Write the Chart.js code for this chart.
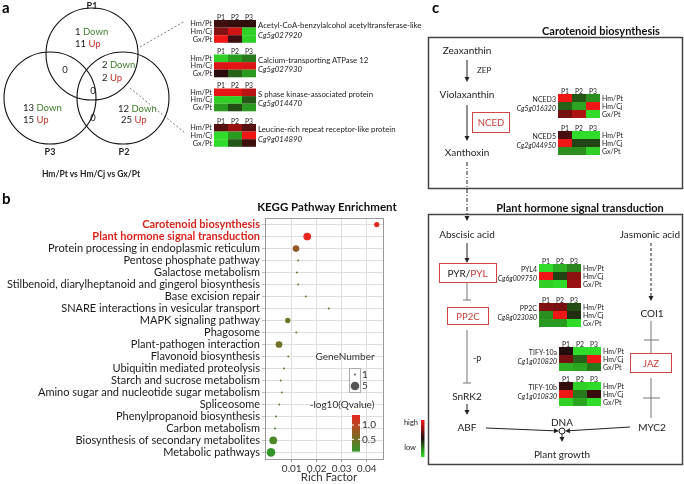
<!DOCTYPE html>
<html>
<head>
<meta charset="utf-8">
<script src="https://cdn.jsdelivr.net/npm/chart.js@4.4.1/dist/chart.umd.min.js"></script>
<style>
  html, body { margin: 0; padding: 0; background: #fff; }
  #wrap { position: relative; width: 684px; height: 484px; overflow: hidden; font-family: Lato, sans-serif; }
  #kegg { position: absolute; left: 0; top: 200px; }
  #fig { position: absolute; left: 0; top: 0; pointer-events: none; }
  #fig text { font-family: Lato, sans-serif; }
</style>
</head>
<body>
<div id="wrap">
  <canvas id="kegg" width="400" height="284"></canvas>
  <svg id="fig" width="684" height="484"></svg>
</div>
<script>
// ── KEGG enrichment data ──
const PATHWAYS = [
  "Carotenoid biosynthesis",
  "Plant hormone signal transduction",
  "Protein processing in endoplasmic reticulum",
  "Pentose phosphate pathway",
  "Galactose metabolism",
  "Stilbenoid, diarylheptanoid and gingerol biosynthesis",
  "Base excision repair",
  "SNARE interactions in vesicular transport",
  "MAPK signaling pathway",
  "Phagosome",
  "Plant-pathogen interaction",
  "Flavonoid biosynthesis",
  "Ubiquitin mediated proteolysis",
  "Starch and sucrose metabolism",
  "Amino sugar and nucleotide sugar metabolism",
  "Spliceosome",
  "Phenylpropanoid biosynthesis",
  "Carbon metabolism",
  "Biosynthesis of secondary metabolites",
  "Metabolic pathways",
];
const RICH_FACTOR = [0.0440, 0.0162, 0.0117, 0.0126, 0.0121, 0.0126, 0.0156, 0.0248, 0.0084, 0.0118,
                     0.0049, 0.0086, 0.0069, 0.0056, 0.0060, 0.0050, 0.0037, 0.0033, 0.0026, 0.0017];
const GENE_NUMBER = [2, 4, 3, 1, 1, 1, 1, 1, 2, 1, 3, 1, 1, 1, 1, 1, 1, 1, 4, 5];
const Q_VALUE = [1.30, 1.35, 0.75, 0.55, 0.55, 0.55, 0.50, 0.45, 0.45, 0.45,
                 0.50, 0.40, 0.40, 0.35, 0.35, 0.35, 0.30, 0.25, 0.25, 0.07];
const X_TICKS = [0.01, 0.02, 0.03, 0.04];
const SIZE_KEYS = [1, 5];
const Q_TICKS = [0.5, 1.0];
const Q_MIN = 0.07, Q_MAX = 1.35;

// ── Venn / heatmap data ──
const CONDS = ["Hm/Pt", "Hm/Cj", "Gx/Pt"];
const PHASES = ["P1", "P2", "P3"];
const HEAT_ACETYL = [[0.15, 0.1, 0.08], [0.45, 0.8, -0.9], [0.95, 0.15, -0.9]];
const HEAT_CALCIUM = [[-0.9, -0.65, -0.5], [0.85, 0.9, 0.85], [0.05, -0.4, -0.65]];
const HEAT_SPHASE = [[0.9, 0.9, 0.7], [-0.9, -0.9, -0.35], [-0.65, -0.3, -0.65]];
const HEAT_LRR = [[0.25, 0.55, 0.25], [-0.95, -0.65, 0.95], [-0.95, -0.35, 0.15]];
const HEAT_NCED3 = [[0.95, -0.35, -0.6], [-0.4, -0.7, 0.95], [0.4, 0.65, -0.95]];
const HEAT_NCED5 = [[0.2, -0.95, -0.95], [0.95, -0.25, -0.25], [-0.6, -0.6, -0.9]];
const HEAT_PYL4 = [[-0.95, -0.75, -0.55], [0.95, -0.25, 0.5], [-0.9, -0.95, 0.55]];
const HEAT_PP2C = [[0.45, 0.4, -0.3], [-0.6, 0.95, -0.15], [-0.65, -0.65, -0.95]];
const HEAT_TIFY10A = [[0.02, -0.95, -0.95], [0.4, -0.4, 0.95], [-0.75, -0.7, -0.5]];
const HEAT_TIFY10B = [[0.1, -0.9, -0.95], [0.95, -0.5, 0.12], [-0.9, -0.7, -0.95]];

// ── helpers ──
const LOW = [52, 150, 40], HIGH = [232, 40, 30];
function qColor(q) {
  const t = Math.max(0, Math.min(1, (q - Q_MIN) / (Q_MAX - Q_MIN)));
  const c = LOW.map((l, i) => Math.round(l + (HIGH[i] - l) * t));
  return `rgb(${c.join(",")})`;
}
function radius(n) {
  return 1 + 3.3 * Math.sqrt((n - 1) / 4);
}
function heatColor(v) {
  if (v >= 0) {
    return `rgb(${Math.round(30 + 222 * v)},${Math.round(12 + 10 * v)},${Math.round(12 + 10 * v)})`;
  }
  const a = -v;
  return `rgb(${Math.round(30 + 20 * a)},${Math.round(12 + 218 * a)},${Math.round(12 + 30 * a)})`;
}

// ── Bubble chart ──
const extras = {
  id: "extras",
  afterDraw(chart) {
    const { ctx, chartArea: a } = chart;
    ctx.save();
    ctx.strokeStyle = "#9a9a9a";
    ctx.lineWidth = 1;
    ctx.strokeRect(Math.round(a.left) + 0.5, Math.round(a.top) + 0.5, Math.round(a.right - a.left), Math.round(a.bottom - a.top));

    ctx.fillStyle = "#111";
    ctx.textAlign = "center";
    ctx.textBaseline = "middle";
    ctx.font = "bold 11.5px Lato";
    ctx.fillText("KEGG Pathway Enrichment", 327, 7);
    ctx.font = "11.5px Lato";
    ctx.fillStyle = "#333";
    ctx.fillText("Rich Factor", 329, 277);

    // gene number legend
    ctx.font = "10px Lato";
    ctx.fillText("GeneNumber", 345, 157);
    ctx.fillStyle = "#fff";
    ctx.strokeStyle = "#aaa";
    ctx.fillRect(349.5, 168.5, 11, 24);
    ctx.strokeRect(349.5, 168.5, 11, 24);
    ctx.textAlign = "left";
    SIZE_KEYS.forEach((n, i) => {
      const y = 174.5 + i * 11.5;
      ctx.fillStyle = "#555";
      ctx.beginPath();
      ctx.arc(355, y, radius(n), 0, Math.PI * 2);
      ctx.fill();
      ctx.fillStyle = "#333";
      ctx.fillText(String(n), 362, y);
    });

    // q value colour bar
    ctx.textAlign = "center";
    ctx.fillText("-log10(Qvalue)", 342, 205);
    const yq = (q) => 225 + (1.0 - q) * 28.6;
    const top = yq(Q_MAX), bot = yq(Q_MIN);
    const g = ctx.createLinearGradient(0, bot, 0, top);
    for (let k = 0; k <= 10; k++) g.addColorStop(k / 10, qColor(Q_MIN + (Q_MAX - Q_MIN) * k / 10));
    ctx.fillStyle = g;
    ctx.fillRect(352, top, 8, bot - top);
    ctx.textAlign = "left";
    Q_TICKS.forEach((q) => {
      const y = yq(q);
      ctx.strokeStyle = "#fff";
      ctx.beginPath();
      ctx.moveTo(352, y); ctx.lineTo(354, y);
      ctx.moveTo(358, y); ctx.lineTo(360, y);
      ctx.stroke();
      ctx.fillStyle = "#333";
      ctx.fillText(q.toFixed(1), 362, y);
    });
    ctx.restore();
  },
};

new Chart(document.getElementById("kegg").getContext("2d"), {
  type: "bubble",
  data: {
    datasets: [{
      data: PATHWAYS.map((p, i) => ({ x: RICH_FACTOR[i], y: i, r: radius(GENE_NUMBER[i]) })),
      backgroundColor: Q_VALUE.map(qColor),
      borderWidth: 0,
      hoverRadius: 0,
    }],
  },
  options: {
    responsive: false,
    animation: false,
    devicePixelRatio: 1,
    layout: { padding: { top: 18, right: 17, bottom: 0, left: 0 } },
    plugins: { legend: { display: false }, tooltip: { enabled: false } },
    scales: {
      x: {
        type: "linear",
        min: -0.0007,
        max: 0.0465,
        afterBuildTicks: (s) => { s.ticks = X_TICKS.map((v) => ({ value: v })); },
        afterFit: (s) => { s.height = 25; },
        grid: { color: "#dedede", tickColor: "#999", tickLength: 3 },
        border: { color: "#9a9a9a" },
        ticks: { padding: 1, color: "#333", font: { family: "Lato", size: 10 }, maxRotation: 0, callback: (v) => v.toFixed(2) },
      },
      y: {
        type: "linear",
        reverse: true,
        min: -0.55,
        max: 19.55,
        afterBuildTicks: (s) => { s.ticks = PATHWAYS.map((p, i) => ({ value: i })); },
        afterFit: (s) => { s.width = 265; },
        grid: { color: "#dedede", tickColor: "#bbb", tickLength: 3 },
        border: { color: "#9a9a9a" },
        ticks: {
          autoSkip: false,
          padding: 2,
          callback: (v) => PATHWAYS[v],
          color: (c) => (c.tick && c.tick.value < 2 ? "#d9231d" : "#1a1a1a"),
          font: (c) => ({ family: "Lato", size: 11, weight: c.tick && c.tick.value < 2 ? "bold" : "normal" }),
        },
      },
    },
  },
  plugins: [extras],
});

// ── Panels a and c (svg) ──
const parts = [];
function T(x, y, s, o = {}) {
  parts.push(`<text x="${x}" y="${y}" font-size="${o.size || 9}" text-anchor="${o.anchor || "start"}" dominant-baseline="central" fill="${o.fill || "#222"}" font-weight="${o.weight || "normal"}" font-style="${o.style || "normal"}">${s}</text>`);
}
function L(x1, y1, x2, y2, o = {}) {
  parts.push(`<line x1="${x1}" y1="${y1}" x2="${x2}" y2="${y2}" stroke="${o.stroke || "#222"}" stroke-width="${o.w || 1}"${o.dash ? ` stroke-dasharray="${o.dash}"` : ""}/>`);
}
function R(x, y, w, h, fill, stroke) {
  parts.push(`<rect x="${x}" y="${y}" width="${w}" height="${h}" fill="${fill}"${stroke ? ` stroke="${stroke}" stroke-width="1"` : ""}/>`);
}
function arrow(x1, y1, x2, y2, o = {}) {
  const ang = Math.atan2(y2 - y1, x2 - x1), len = 5, hw = 2.5;
  const bx = x2 - len * Math.cos(ang), by = y2 - len * Math.sin(ang);
  L(x1, y1, bx, by, o);
  const px = -Math.sin(ang) * hw, py = Math.cos(ang) * hw;
  parts.push(`<polygon points="${x2},${y2} ${bx + px},${by + py} ${bx - px},${by - py}" fill="${o.stroke || "#222"}"/>`);
}
function inhibit(x1, y1, x2, y2, barY, half) {
  L(x1, y1, x2, y2, { stroke: "#777" });
  L(x2 - half, barY, x2 + half, barY, { stroke: "#777" });
}

// panel a heatmap
function heatA(y, vals, name, id) {
  const x = 214, cw = 14, ch = 7.6;
  PHASES.forEach((p, j) => T(x + cw * j + cw / 2, y - 3.5, p, { size: 6.8, anchor: "middle" }));
  vals.forEach((row, i) => {
    row.forEach((v, j) => R(x + cw * j, y + ch * i, cw, ch, heatColor(v)));
    T(x - 2, y + ch * i + ch / 2, CONDS[i], { size: 7.3, anchor: "end" });
  });
  T(258, y + 5, name, { size: 7.8 });
  T(258, y + 14.5, id, { size: 7.8, style: "italic" });
}
// panel c heatmap
function heatC(x, y, vals, name, id) {
  const cw = 14, ch = 8;
  PHASES.forEach((p, j) => T(x + cw * j + cw / 2, y - 3.5, p, { size: 6.8, anchor: "middle" }));
  vals.forEach((row, i) => {
    row.forEach((v, j) => R(x + cw * j, y + ch * i, cw, ch, heatColor(v)));
    T(x + 44, y + ch * i + ch / 2, CONDS[i], { size: 7 });
  });
  T(x - 2, y + 4.5, name, { size: 7, anchor: "end" });
  T(x - 2, y + 13.5, id, { size: 7, anchor: "end", style: "italic" });
}

// a
T(2, 7, "a", { size: 15, weight: "bold", fill: "#000" });
[[92, 54], [50, 98], [123, 98]].forEach(([cx, cy]) =>
  parts.push(`<circle cx="${cx}" cy="${cy}" r="46" fill="none" stroke="#111" stroke-width="1.1"/>`));
T(92, 5, "P1", { size: 9, anchor: "middle", weight: "bold" });
T(50, 151, "P3", { size: 9, anchor: "middle", weight: "bold" });
T(124, 151, "P2", { size: 9, anchor: "middle", weight: "bold" });
const GREEN = "#3f7f2a", RED = "#c8312a";
function dn(x, y, n) { parts.push(`<text x="${x}" y="${y}" font-size="9.5" dominant-baseline="central" fill="#222">${n} <tspan fill="${GREEN}">Down</tspan></text>`); }
function up(x, y, n) { parts.push(`<text x="${x}" y="${y}" font-size="9.5" dominant-baseline="central" fill="#222">${n} <tspan fill="${RED}">Up</tspan></text>`); }
dn(75, 31, 1); up(75, 43, 11);
dn(102, 64, 2); up(102, 77, 2);
dn(23, 107, 13); up(23, 119, 15);
dn(118, 108, 12); up(121, 119, 25);
T(65, 69, "0", { size: 9.5, anchor: "middle" });
T(93, 90, "0", { size: 9.5, anchor: "middle" });
T(93, 117, "0", { size: 9.5, anchor: "middle" });
T(91, 174, "Hm/Pt vs Hm/Cj vs Gx/Pt", { size: 8.5, anchor: "middle", weight: "bold" });
L(140, 47, 185, 21, { stroke: "#555", w: 0.8, dash: "2,2" });
L(130, 88, 185, 133, { stroke: "#555", w: 0.8, dash: "2,2" });
heatA(20, HEAT_ACETYL, "Acetyl-CoA-benzylalcohol acetyltransferase-like", "Cg5g027920");
heatA(54.5, HEAT_CALCIUM, "Calcium-transporting ATPase 12", "Cg5g027930");
heatA(88.5, HEAT_SPHASE, "S phase kinase-associated protein", "Cg5g014470");
heatA(124, HEAT_LRR, "Leucine-rich repeat receptor-like protein", "Cg9g014890");

// b label
T(2, 198, "b", { size: 15, weight: "bold", fill: "#000" });

// c
T(432, 7, "c", { size: 15, weight: "bold", fill: "#000" });
T(601, 30, "Carotenoid biosynthesis", { size: 11, anchor: "middle", weight: "bold", fill: "#111" });
parts.push(`<rect x="428.5" y="37.5" width="254" height="151" fill="none" stroke="#444" stroke-width="1.5"/>`);
T(467, 50, "Zeaxanthin", { size: 10, anchor: "middle" });
arrow(467, 60, 467, 82);
T(477, 70, "ZEP", { size: 8 });
T(467, 94, "Violaxanthin", { size: 10, anchor: "middle" });
arrow(467, 105, 467, 141);
R(472.5, 112.5, 37, 20, "#fff", "#d04545");
T(491, 122.5, "NCED", { size: 9.5, anchor: "middle", fill: "#c83a3a" });
T(467, 152, "Xanthoxin", { size: 10, anchor: "middle" });
arrow(467, 162, 467, 221, { dash: "4,2,1,2" });
heatC(558, 94, HEAT_NCED3, "NCED3", "Cg5g016320");
heatC(558, 131, HEAT_NCED5, "NCED5", "Cg2g044950");

T(580, 207, "Plant hormone signal transduction", { size: 11, anchor: "middle", weight: "bold", fill: "#111" });
parts.push(`<rect x="428.5" y="214.5" width="254" height="250" fill="none" stroke="#444" stroke-width="1.5"/>`);
T(467, 234, "Abscisic acid", { size: 10, anchor: "middle" });
arrow(467, 243, 467, 263);
R(439.5, 263.5, 57, 19, "#fff", "#d04545");
parts.push(`<text x="467.5" y="273" font-size="10" text-anchor="middle" dominant-baseline="central" fill="#222">PYR/<tspan fill="#c83a3a">PYL</tspan></text>`);
inhibit(467, 283, 467, 300, 300, 4);
R(447.5, 307.5, 41, 17, "#fff", "#d04545");
T(468, 316, "PP2C", { size: 9.5, anchor: "middle", fill: "#c83a3a" });
inhibit(467, 330, 467, 383, 383, 4);
T(473, 357, "-p", { size: 9 });
T(467, 396, "SnRK2", { size: 10, anchor: "middle" });
arrow(467, 404, 467, 415);
T(467, 427, "ABF", { size: 10, anchor: "middle" });
T(562, 422, "DNA", { size: 10, anchor: "middle" });
arrow(486, 428, 559, 431);
arrow(630, 427, 565, 431);
parts.push(`<circle cx="562" cy="431" r="3" fill="#fff" stroke="#222" stroke-width="1"/>`);
arrow(562, 434, 562, 442);
T(562, 454, "Plant growth", { size: 10, anchor: "middle" });
T(650, 234, "Jasmonic acid", { size: 10, anchor: "middle" });
arrow(651, 243, 651, 301, { dash: "3,2" });
T(652, 313, "COI1", { size: 10, anchor: "middle" });
L(651, 321, 651, 353, { stroke: "#777" });
L(644, 340, 659, 340, { stroke: "#777" });
R(630.5, 353.5, 41, 19, "#fff", "#d04545");
T(651, 363, "JAZ", { size: 9.5, anchor: "middle", fill: "#c83a3a" });
L(651, 378, 651, 418, { stroke: "#777" });
L(643, 398, 660, 398, { stroke: "#777" });
T(652, 427, "MYC2", { size: 10, anchor: "middle" });
heatC(539, 264, HEAT_PYL4, "PYL4", "Cg6g009750");
heatC(539, 303, HEAT_PP2C, "PP2C", "Cg8g023080");
heatC(559, 347, HEAT_TIFY10A, "TIFY-10a", "Cg1g010820");
heatC(559, 382, HEAT_TIFY10B, "TIFY-10b", "Cg1g010830");

// high/low key
parts.push(`<defs><linearGradient id="hl" x1="0" y1="0" x2="0" y2="1"><stop offset="0" stop-color="${heatColor(1)}"/><stop offset="0.5" stop-color="${heatColor(0)}"/><stop offset="1" stop-color="${heatColor(-1)}"/></linearGradient></defs>`);
R(421, 420, 3.5, 37, "url(#hl)");
T(418, 422, "high", { size: 7.5, anchor: "end" });
T(416, 447, "low", { size: 7.5, anchor: "end" });

document.getElementById("fig").innerHTML = parts.join("");
</script>
</body>
</html>
